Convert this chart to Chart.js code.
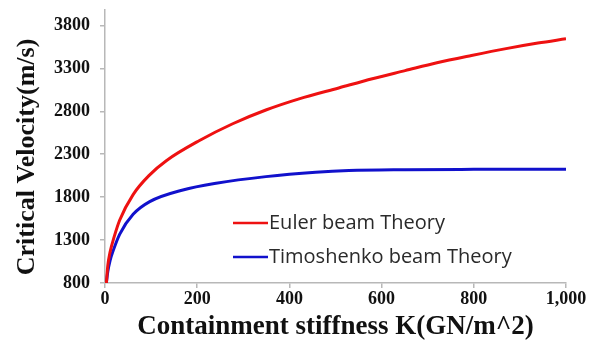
<!DOCTYPE html>
<html>
<head>
<meta charset="utf-8">
<script src="https://cdn.jsdelivr.net/npm/chart.js@4/dist/chart.umd.min.js"></script>
<style>
  html, body { margin: 0; padding: 0; background: #fff; }
  #wrap { width: 597px; height: 344px; }
</style>
</head>
<body>
<div id="wrap"><canvas id="c" width="597" height="344"></canvas></div>
<script>
// Containment stiffness K (GN/m^2)
const eulerK = [3, 6, 11, 20, 32, 61, 97, 133, 205, 277, 349, 421, 507, 580, 651, 720, 795, 870, 939, 1000];
// Critical velocity (m/s), Euler beam
const eulerV = [800, 1000, 1160, 1340, 1534, 1830, 2060, 2225, 2460, 2655, 2815, 2945, 3072, 3180, 3274, 3365, 3450, 3530, 3595, 3645];

const timoK = [3, 6, 11, 18, 32, 61, 97, 169, 241, 349, 457, 529, 650, 800, 1000];
// Critical velocity (m/s), Timoshenko beam
const timoV = [800, 930, 1060, 1180, 1370, 1600, 1748, 1884, 1962, 2039, 2090, 2110, 2120, 2124, 2126];

const yTicks = [800, 1300, 1800, 2300, 2800, 3300, 3800];
const xTicks = [0, 200, 400, 600, 800, 1000];

const seriesNames = ['Euler beam Theory', 'Timoshenko beam Theory'];
const seriesColors = ['#ee1111', '#1111cc'];
const yTitle = 'Critical Velocity(m/s)';
const xTitle = 'Containment stiffness K(GN/m^2)';

const toPoints = (ks, vs) => ks.map((k, i) => ({ x: k, y: vs[i] }));

const serifFamily = '"Liberation Serif", "Times New Roman", serif';
const serifBold = { family: serifFamily, weight: 'bold' };

// In-plot legend drawn at the lower right of the curves, plus the rotated y-axis title
const annotations = {
  id: 'annotations',
  afterDraw(chart) {
    const ctx = chart.ctx;
    const rows = [223, 257];
    ctx.save();
    ctx.font = '20px "Open Sans", "Liberation Sans", sans-serif';
    ctx.textBaseline = 'middle';
    ctx.textAlign = 'left';
    chart.data.datasets.forEach((ds, i) => {
      const y = rows[i];
      ctx.strokeStyle = ds.borderColor;
      ctx.lineWidth = 2.5;
      ctx.beginPath();
      ctx.moveTo(233, y);
      ctx.lineTo(268, y);
      ctx.stroke();
      ctx.fillStyle = '#2a2a2a';
      ctx.fillText(ds.label, 269, y);
    });
    ctx.restore();

    ctx.save();
    ctx.translate(27, 157);
    ctx.rotate(-Math.PI / 2);
    ctx.font = 'bold 26px ' + serifFamily;
    ctx.fillStyle = '#111';
    ctx.textAlign = 'center';
    ctx.textBaseline = 'middle';
    ctx.fillText(yTitle, 0, 0);
    ctx.restore();
  }
};

new Chart(document.getElementById('c'), {
  type: 'line',
  data: {
    datasets: [
      { label: seriesNames[0], data: toPoints(eulerK, eulerV), borderColor: seriesColors[0],
        borderWidth: 3, pointRadius: 0, cubicInterpolationMode: 'monotone', fill: false },
      { label: seriesNames[1], data: toPoints(timoK, timoV), borderColor: seriesColors[1],
        borderWidth: 3, pointRadius: 0, cubicInterpolationMode: 'monotone', fill: false }
    ]
  },
  options: {
    responsive: false,
    animation: false,
    layout: { padding: { top: 10, right: 31, left: 0, bottom: 0 } },
    plugins: { legend: { display: false }, tooltip: { enabled: false } },
    scales: {
      x: {
        type: 'linear',
        min: 0, max: 1000,
        afterBuildTicks: s => { s.ticks = xTicks.map(v => ({ value: v })); },
        afterFit: s => { s.height = 61; s.paddingLeft = 0; s.paddingRight = 0; },
        grid: { drawOnChartArea: false, drawTicks: true, tickLength: 5, color: '#b8b8b8', lineWidth: 1.5 },
        border: { color: '#b8b8b8', width: 1.5 },
        ticks: {
          color: '#111',
          font: { ...serifBold, size: 18 },
          padding: 1,
          maxRotation: 0,
          callback: v => v.toLocaleString('en-US')
        },
        title: {
          display: true,
          text: xTitle,
          color: '#111',
          font: { ...serifBold, size: 27 },
          padding: { top: 0, bottom: 1 }
        }
      },
      y: {
        min: 800, max: 3980,
        afterBuildTicks: s => { s.ticks = yTicks.map(v => ({ value: v })); },
        afterFit: s => { s.width = 105; s.paddingTop = 0; s.paddingBottom = 0; },
        grid: { drawOnChartArea: false, drawTicks: true, tickLength: 5, color: '#b8b8b8', lineWidth: 1.5 },
        border: { color: '#b8b8b8', width: 1.5 },
        ticks: {
          color: '#111',
          font: { ...serifBold, size: 18 },
          padding: 10,
          callback: v => String(v)
        },
        title: { display: false }
      }
    }
  },
  plugins: [annotations]
});
</script>
</body>
</html>
